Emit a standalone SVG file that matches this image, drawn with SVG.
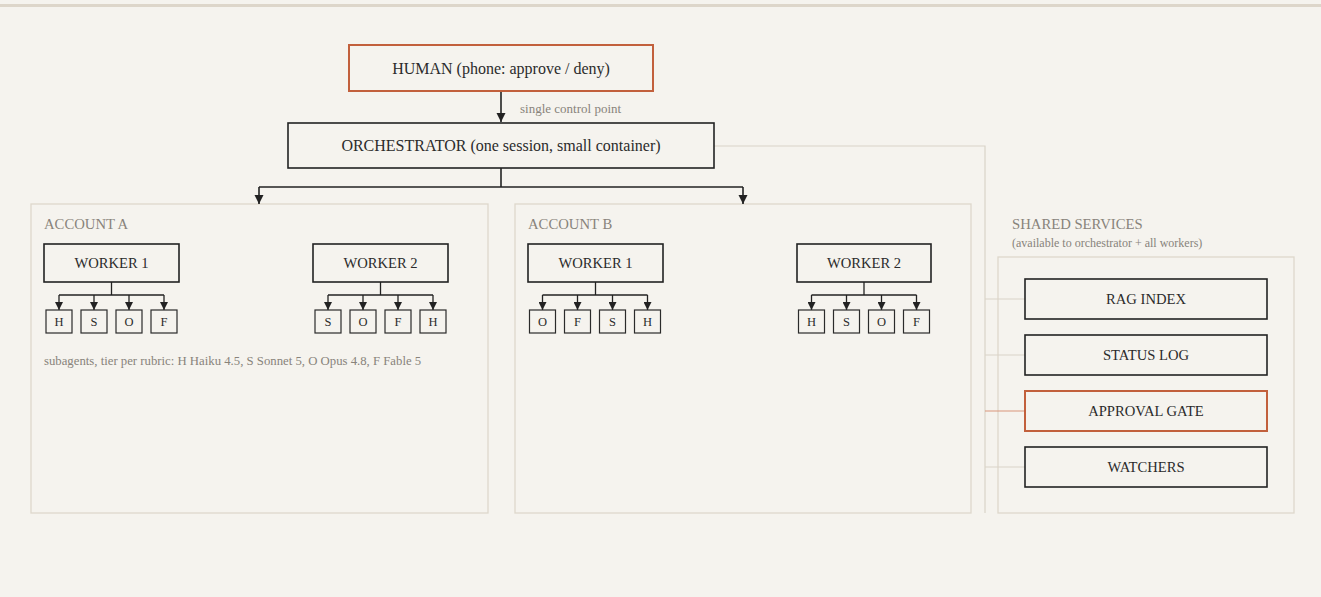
<svg xmlns="http://www.w3.org/2000/svg" width="1321" height="597" viewBox="0 0 1321 597">
<style>
text{font-family:"Liberation Serif","Times New Roman",serif;fill:#2b2b2b}
.node{fill:#f5f3ee;stroke:#222;stroke-width:1.6}
.hot{fill:#f5f3ee;stroke:#c2603c;stroke-width:2}
.sub{fill:#f5f3ee;stroke:#2b2b2b;stroke-width:1.2}
.grp{fill:none;stroke:#ddd8cc;stroke-width:1.3}
.lbl{fill:#88837b}
.c{text-anchor:middle}
.wire{fill:none;stroke:#222;stroke-width:1.6}
.thin{fill:none;stroke:#222;stroke-width:1.3}
.svc{fill:none;stroke:#d9d4c8;stroke-width:1.2}
.svch{fill:none;stroke:#d9957a;stroke-width:1.2}
.w{font-size:14.6px}
.s{font-size:12.5px}
</style>
<defs>
<marker id="ah" markerWidth="10" markerHeight="10" refX="9" refY="5" orient="auto" markerUnits="userSpaceOnUse">
<path d="M0,0.5 L9,5 L0,9.5 z" fill="#222"/>
</marker>
<marker id="as" markerWidth="8" markerHeight="8" refX="8" refY="4" orient="auto" markerUnits="userSpaceOnUse">
<path d="M0,0 L8,4 L0,8 z" fill="#222"/>
</marker>
</defs>
<rect width="1321" height="597" fill="#f5f3ee"/>
<rect x="0" y="4" width="1321" height="3" fill="#ddd6ca"/>

<g id="groups">
<rect class="grp" x="31" y="204" width="457" height="309"/>
<text class="lbl" x="44" y="229" font-size="14.7">ACCOUNT A</text>
<text class="lbl" x="44" y="365" font-size="12.75">subagents, tier per rubric: H Haiku 4.5, S Sonnet 5, O Opus 4.8, F Fable 5</text>
<rect class="grp" x="515" y="204" width="456" height="309"/>
<text class="lbl" x="528" y="229" font-size="14.7">ACCOUNT B</text>
<rect class="grp" x="998" y="257" width="296" height="256"/>
<text class="lbl" x="1012" y="229" font-size="14.7">SHARED SERVICES</text>
<text class="lbl" x="1012" y="247" font-size="12">(available to orchestrator + all workers)</text>
</g>

<g id="connectors">
<line class="wire" x1="501" y1="91" x2="501" y2="122" marker-end="url(#ah)"/>
<text class="lbl" x="520" y="113" font-size="13">single control point</text>
<polyline class="wire" points="501,168 501,187"/>
<polyline class="wire" points="259,187 743,187"/>
<line class="wire" x1="259" y1="187" x2="259" y2="204" marker-end="url(#ah)"/>
<line class="wire" x1="743" y1="187" x2="743" y2="204" marker-end="url(#ah)"/>
<polyline class="svc" points="714,146 985,146 985,513"/>
<line class="svc" x1="985" y1="299" x2="1025" y2="299"/>
<line class="svc" x1="985" y1="355" x2="1025" y2="355"/>
<line class="svch" x1="985" y1="411" x2="1025" y2="411"/>
<line class="svc" x1="985" y1="467" x2="1025" y2="467"/>
<g>
<polyline class="thin" points="111.5,282 111.5,295"/>
<polyline class="thin" points="59,295 164,295"/>
<line class="thin" x1="59" y1="295" x2="59" y2="310" marker-end="url(#as)"/>
<line class="thin" x1="94" y1="295" x2="94" y2="310" marker-end="url(#as)"/>
<line class="thin" x1="129" y1="295" x2="129" y2="310" marker-end="url(#as)"/>
<line class="thin" x1="164" y1="295" x2="164" y2="310" marker-end="url(#as)"/>
</g>
<g>
<polyline class="thin" points="380.5,282 380.5,295"/>
<polyline class="thin" points="328,295 433,295"/>
<line class="thin" x1="328" y1="295" x2="328" y2="310" marker-end="url(#as)"/>
<line class="thin" x1="363" y1="295" x2="363" y2="310" marker-end="url(#as)"/>
<line class="thin" x1="398" y1="295" x2="398" y2="310" marker-end="url(#as)"/>
<line class="thin" x1="433" y1="295" x2="433" y2="310" marker-end="url(#as)"/>
</g>
<g>
<polyline class="thin" points="595.5,282 595.5,295"/>
<polyline class="thin" points="542.5,295 647.5,295"/>
<line class="thin" x1="542.5" y1="295" x2="542.5" y2="310" marker-end="url(#as)"/>
<line class="thin" x1="577.5" y1="295" x2="577.5" y2="310" marker-end="url(#as)"/>
<line class="thin" x1="612.5" y1="295" x2="612.5" y2="310" marker-end="url(#as)"/>
<line class="thin" x1="647.5" y1="295" x2="647.5" y2="310" marker-end="url(#as)"/>
</g>
<g>
<polyline class="thin" points="864,282 864,295"/>
<polyline class="thin" points="811.5,295 916.5,295"/>
<line class="thin" x1="811.5" y1="295" x2="811.5" y2="310" marker-end="url(#as)"/>
<line class="thin" x1="846.5" y1="295" x2="846.5" y2="310" marker-end="url(#as)"/>
<line class="thin" x1="881.5" y1="295" x2="881.5" y2="310" marker-end="url(#as)"/>
<line class="thin" x1="916.5" y1="295" x2="916.5" y2="310" marker-end="url(#as)"/>
</g>
</g>

<g id="human"><rect class="hot" x="349" y="45" width="304" height="46"/><text class="c" x="501" y="74" font-size="16">HUMAN (phone: approve / deny)</text></g>
<g id="orchestrator"><rect class="node" x="288" y="123" width="426" height="45"/><text class="c" x="501" y="151" font-size="16">ORCHESTRATOR (one session, small container)</text></g>

<g id="a-worker1"><rect class="node" x="44" y="244" width="135" height="38"/><text class="c w" x="111.5" y="268">WORKER 1</text></g>
<g id="a-worker2"><rect class="node" x="313" y="244" width="135" height="38"/><text class="c w" x="380.5" y="268">WORKER 2</text></g>
<g id="b-worker1"><rect class="node" x="528" y="244" width="135" height="38"/><text class="c w" x="595.5" y="268">WORKER 1</text></g>
<g id="b-worker2"><rect class="node" x="797" y="244" width="134" height="38"/><text class="c w" x="864" y="268">WORKER 2</text></g>

<g id="a-w1-subs">
<g id="a1h"><rect class="sub" x="46" y="310" width="26" height="23"/><text class="c s" x="59" y="326">H</text></g>
<g id="a1s"><rect class="sub" x="81" y="310" width="26" height="23"/><text class="c s" x="94" y="326">S</text></g>
<g id="a1o"><rect class="sub" x="116" y="310" width="26" height="23"/><text class="c s" x="129" y="326">O</text></g>
<g id="a1f"><rect class="sub" x="151" y="310" width="26" height="23"/><text class="c s" x="164" y="326">F</text></g>
</g>
<g id="a-w2-subs">
<g id="a2s"><rect class="sub" x="315" y="310" width="26" height="23"/><text class="c s" x="328" y="326">S</text></g>
<g id="a2o"><rect class="sub" x="350" y="310" width="26" height="23"/><text class="c s" x="363" y="326">O</text></g>
<g id="a2f"><rect class="sub" x="385" y="310" width="26" height="23"/><text class="c s" x="398" y="326">F</text></g>
<g id="a2h"><rect class="sub" x="420" y="310" width="26" height="23"/><text class="c s" x="433" y="326">H</text></g>
</g>
<g id="b-w1-subs">
<g id="b1o"><rect class="sub" x="529.5" y="310" width="26" height="23"/><text class="c s" x="542.5" y="326">O</text></g>
<g id="b1f"><rect class="sub" x="564.5" y="310" width="26" height="23"/><text class="c s" x="577.5" y="326">F</text></g>
<g id="b1s"><rect class="sub" x="599.5" y="310" width="26" height="23"/><text class="c s" x="612.5" y="326">S</text></g>
<g id="b1h"><rect class="sub" x="634.5" y="310" width="26" height="23"/><text class="c s" x="647.5" y="326">H</text></g>
</g>
<g id="b-w2-subs">
<g id="b2h"><rect class="sub" x="798.5" y="310" width="26" height="23"/><text class="c s" x="811.5" y="326">H</text></g>
<g id="b2s"><rect class="sub" x="833.5" y="310" width="26" height="23"/><text class="c s" x="846.5" y="326">S</text></g>
<g id="b2o"><rect class="sub" x="868.5" y="310" width="26" height="23"/><text class="c s" x="881.5" y="326">O</text></g>
<g id="b2f"><rect class="sub" x="903.5" y="310" width="26" height="23"/><text class="c s" x="916.5" y="326">F</text></g>
</g>

<g id="rag-index"><rect class="node" x="1025" y="279" width="242" height="40"/><text class="c w" x="1146" y="304">RAG INDEX</text></g>
<g id="status-log"><rect class="node" x="1025" y="335" width="242" height="40"/><text class="c w" x="1146" y="360">STATUS LOG</text></g>
<g id="approval-gate"><rect class="hot" x="1025" y="391" width="242" height="40"/><text class="c w" x="1146" y="416">APPROVAL GATE</text></g>
<g id="watchers"><rect class="node" x="1025" y="447" width="242" height="40"/><text class="c w" x="1146" y="472">WATCHERS</text></g>
</svg>
